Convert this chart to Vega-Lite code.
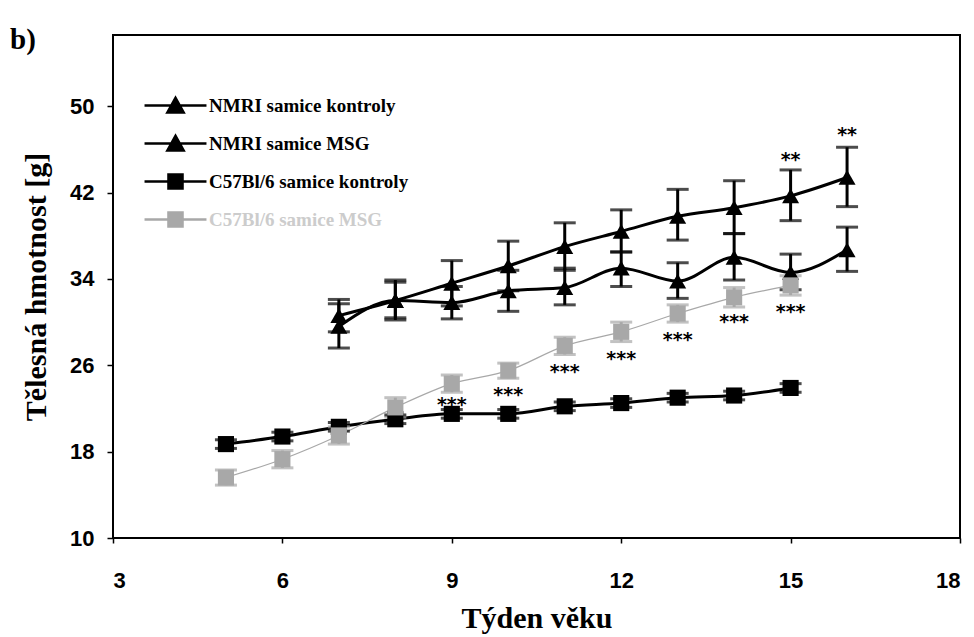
{
  "$schema": "https://vega.github.io/schema/vega-lite/v6.json",
  "autosize": {"type": "none"},
  "width": 847,
  "height": 503,
  "padding": {"left": 113, "top": 35, "right": 14, "bottom": 99},
  "background": "white",
  "title": {
    "text": "b)",
    "anchor": "start",
    "frame": "group",
    "orient": "top",
    "offset": 0,
    "dx": -103,
    "dy": 43,
    "baseline": "alphabetic",
    "font": "Liberation Serif",
    "fontWeight": "bold",
    "fontSize": 29,
    "color": "black"
  },
  "datasets": {
    "series": [
      {"s": "NMRI samice kontroly", "w": 7, "m": 30.6, "lo": 29.1, "hi": 32.1},
      {"s": "NMRI samice kontroly", "w": 8, "m": 32.0, "lo": 30.2, "hi": 33.9},
      {"s": "NMRI samice kontroly", "w": 9, "m": 33.6, "lo": 31.5, "hi": 35.7},
      {"s": "NMRI samice kontroly", "w": 10, "m": 35.2, "lo": 32.9, "hi": 37.5},
      {"s": "NMRI samice kontroly", "w": 11, "m": 37.0, "lo": 34.8, "hi": 39.2},
      {"s": "NMRI samice kontroly", "w": 12, "m": 38.4, "lo": 36.5, "hi": 40.4},
      {"s": "NMRI samice kontroly", "w": 13, "m": 39.8, "lo": 37.6, "hi": 42.3},
      {"s": "NMRI samice kontroly", "w": 14, "m": 40.6, "lo": 38.2, "hi": 43.1},
      {"s": "NMRI samice kontroly", "w": 15, "m": 41.7, "lo": 39.4, "hi": 44.1},
      {"s": "NMRI samice kontroly", "w": 16, "m": 43.4, "lo": 40.7, "hi": 46.2},
      {"s": "NMRI samice MSG", "w": 7, "m": 29.6, "lo": 27.6, "hi": 31.7},
      {"s": "NMRI samice MSG", "w": 8, "m": 32.0, "lo": 30.4, "hi": 33.7},
      {"s": "NMRI samice MSG", "w": 9, "m": 31.8, "lo": 30.3, "hi": 33.3},
      {"s": "NMRI samice MSG", "w": 10, "m": 32.9, "lo": 31.0, "hi": 34.8},
      {"s": "NMRI samice MSG", "w": 11, "m": 33.2, "lo": 31.6, "hi": 35.0},
      {"s": "NMRI samice MSG", "w": 12, "m": 35.0, "lo": 33.3, "hi": 36.5},
      {"s": "NMRI samice MSG", "w": 13, "m": 33.8, "lo": 32.2, "hi": 35.5},
      {"s": "NMRI samice MSG", "w": 14, "m": 36.0, "lo": 33.9, "hi": 38.2},
      {"s": "NMRI samice MSG", "w": 15, "m": 34.6, "lo": 33.0, "hi": 36.3},
      {"s": "NMRI samice MSG", "w": 16, "m": 36.7, "lo": 34.7, "hi": 38.8},
      {"s": "C57Bl/6 samice kontroly", "w": 5, "m": 18.7, "lo": 18.3, "hi": 19.1},
      {"s": "C57Bl/6 samice kontroly", "w": 6, "m": 19.4, "lo": 19.0, "hi": 19.8},
      {"s": "C57Bl/6 samice kontroly", "w": 7, "m": 20.3, "lo": 19.9, "hi": 20.7},
      {"s": "C57Bl/6 samice kontroly", "w": 8, "m": 21.0, "lo": 20.6, "hi": 21.4},
      {"s": "C57Bl/6 samice kontroly", "w": 9, "m": 21.5, "lo": 21.1, "hi": 21.9},
      {"s": "C57Bl/6 samice kontroly", "w": 10, "m": 21.5, "lo": 21.1, "hi": 21.9},
      {"s": "C57Bl/6 samice kontroly", "w": 11, "m": 22.2, "lo": 21.8, "hi": 22.6},
      {"s": "C57Bl/6 samice kontroly", "w": 12, "m": 22.5, "lo": 22.1, "hi": 22.9},
      {"s": "C57Bl/6 samice kontroly", "w": 13, "m": 23.0, "lo": 22.6, "hi": 23.4},
      {"s": "C57Bl/6 samice kontroly", "w": 14, "m": 23.2, "lo": 22.8, "hi": 23.6},
      {"s": "C57Bl/6 samice kontroly", "w": 15, "m": 23.9, "lo": 23.5, "hi": 24.3},
      {"s": "C57Bl/6 samice MSG", "w": 5, "m": 15.6, "lo": 14.9, "hi": 16.3},
      {"s": "C57Bl/6 samice MSG", "w": 6, "m": 17.3, "lo": 16.5, "hi": 18.1},
      {"s": "C57Bl/6 samice MSG", "w": 7, "m": 19.5, "lo": 18.7, "hi": 20.3},
      {"s": "C57Bl/6 samice MSG", "w": 8, "m": 22.1, "lo": 21.2, "hi": 23.0},
      {"s": "C57Bl/6 samice MSG", "w": 9, "m": 24.3, "lo": 23.5, "hi": 25.1},
      {"s": "C57Bl/6 samice MSG", "w": 10, "m": 25.5, "lo": 24.8, "hi": 26.2},
      {"s": "C57Bl/6 samice MSG", "w": 11, "m": 27.8, "lo": 27.0, "hi": 28.6},
      {"s": "C57Bl/6 samice MSG", "w": 12, "m": 29.1, "lo": 28.2, "hi": 30.0},
      {"s": "C57Bl/6 samice MSG", "w": 13, "m": 30.8, "lo": 30.0, "hi": 31.6},
      {"s": "C57Bl/6 samice MSG", "w": 14, "m": 32.3, "lo": 31.4, "hi": 33.2},
      {"s": "C57Bl/6 samice MSG", "w": 15, "m": 33.4, "lo": 32.5, "hi": 34.3}
    ],
    "notes": [
      {"w": 9, "v": 22.9, "t": "***"},
      {"w": 10, "v": 23.8, "t": "***"},
      {"w": 11, "v": 25.9, "t": "***"},
      {"w": 12, "v": 27.1, "t": "***"},
      {"w": 13, "v": 28.9, "t": "***"},
      {"w": 14, "v": 30.6, "t": "***"},
      {"w": 15, "v": 31.5, "t": "***"},
      {"w": 15, "v": 45.6, "t": "**"},
      {"w": 16, "v": 47.9, "t": "**"}
    ]
  },
  "encoding": {
    "x": {
      "field": "w",
      "type": "quantitative",
      "scale": {"domain": [3, 18], "nice": false, "zero": false},
      "axis": {
        "title": "Týden věku",
        "values": [3, 6, 9, 12, 15, 18],
        "grid": false,
        "domain": false,
        "tickColor": "black",
        "tickSize": 5,
        "labelFont": "Liberation Sans",
        "labelFontWeight": "bold",
        "labelFontSize": 22,
        "labelColor": "black",
        "labelPadding": 27,
        "titleFont": "Liberation Serif",
        "titleFontWeight": "bold",
        "titleFontSize": 30,
        "titleColor": "black",
        "titlePadding": 12
      }
    }
  },
  "layer": [
    {
      "data": {"name": "series"},
      "transform": [{"filter": "datum.s !== 'C57Bl/6 samice MSG'"}],
      "mark": {"type": "line", "interpolate": "monotone", "strokeWidth": 3},
      "encoding": {
        "y": {
          "field": "m",
          "type": "quantitative",
          "scale": {"domain": [10, 56.6], "nice": false, "zero": false},
          "axis": {
            "title": "Tělesná hmotnost [g]",
            "values": [10, 18, 26, 34, 42, 50],
            "grid": false,
            "domain": false,
            "tickColor": "black",
            "tickSize": 6,
            "labelFont": "Liberation Sans",
            "labelFontWeight": "bold",
            "labelFontSize": 22,
            "labelColor": "black",
            "labelPadding": 13,
            "titleFont": "Liberation Serif",
            "titleFontWeight": "bold",
            "titleFontSize": 30,
            "titleColor": "black",
            "titlePadding": 18
          }
        },
        "color": {
          "field": "s",
          "type": "nominal",
          "scale": {
            "domain": ["NMRI samice kontroly", "NMRI samice MSG", "C57Bl/6 samice kontroly", "C57Bl/6 samice MSG"],
            "range": ["black", "black", "black", "#a8a8a8"]
          },
          "legend": {
            "orient": "none",
            "legendX": 42,
            "legendY": 50,
            "title": null,
            "padding": 0,
            "rowPadding": 5,
            "symbolType": "M-1.63,0H1.63M-0.43,0.37L0,-0.4L0.43,0.37Z",
            "symbolSize": 1444,
            "symbolStrokeWidth": 2.5,
            "labelOffset": 13,
            "labelLimit": 400,
            "labelFont": "Liberation Serif",
            "labelFontWeight": "bold",
            "labelFontSize": 19,
            "labelColor": "black",
            "encode": {
              "symbols": {
                "update": {
                  "shape": {"signal": "indexof(datum.value, 'NMRI') === 0 ? 'M-1.63,0H1.63M-0.43,0.37L0,-0.4L0.43,0.37Z' : 'M-1.63,0H1.63M-0.37,-0.37H0.37V0.37H-0.37Z'"},
                  "fill": {"signal": "datum.value === 'C57Bl/6 samice MSG' ? '#c0c0c0' : 'black'"},
                  "stroke": {"signal": "datum.value === 'C57Bl/6 samice MSG' ? '#dadada' : 'black'"},
                  "strokeWidth": {"value": 2.5},
                  "opacity": {"value": 1}
                }
              },
              "labels": {
                "update": {
                  "fill": {"signal": "datum.value === 'C57Bl/6 samice MSG' ? '#cccccc' : 'black'"}
                }
              }
            }
          }
        }
      }
    },
    {
      "data": {"name": "series"},
      "transform": [{"filter": "datum.s === 'C57Bl/6 samice MSG'"}],
      "mark": {"type": "line", "interpolate": "monotone", "strokeWidth": 1.2},
      "encoding": {
        "y": {"field": "m", "type": "quantitative"},
        "color": {"field": "s", "type": "nominal"}
      }
    },
    {
      "data": {"name": "series"},
      "mark": {"type": "rule", "strokeWidth": 3},
      "encoding": {
        "y": {"field": "lo", "type": "quantitative"},
        "y2": {"field": "hi"},
        "color": {"field": "s", "type": "nominal"}
      }
    },
    {
      "data": {"name": "series"},
      "mark": {"type": "tick", "orient": "horizontal", "thickness": 3, "size": 22},
      "encoding": {
        "y": {"field": "lo", "type": "quantitative"},
        "color": {"field": "s", "type": "nominal"}
      }
    },
    {
      "data": {"name": "series"},
      "mark": {"type": "tick", "orient": "horizontal", "thickness": 3, "size": 22},
      "encoding": {
        "y": {"field": "hi", "type": "quantitative"},
        "color": {"field": "s", "type": "nominal"}
      }
    },
    {
      "data": {"name": "series"},
      "transform": [{"filter": "indexof(datum.s, 'NMRI') === 0"}],
      "mark": {"type": "point", "shape": "triangle-up", "filled": true, "opacity": 1, "size": 290},
      "encoding": {
        "y": {"field": "m", "type": "quantitative"},
        "color": {"field": "s", "type": "nominal"}
      }
    },
    {
      "data": {"name": "series"},
      "transform": [{"filter": "indexof(datum.s, 'C57') === 0"}],
      "mark": {"type": "point", "shape": "square", "filled": true, "opacity": 1, "size": 260},
      "encoding": {
        "y": {"field": "m", "type": "quantitative"},
        "color": {"field": "s", "type": "nominal"}
      }
    },
    {
      "data": {"name": "notes"},
      "mark": {"type": "text", "font": "DejaVu Sans", "fontWeight": "bold", "fontSize": 19, "baseline": "middle", "dy": 6, "color": "black"},
      "encoding": {
        "y": {"field": "v", "type": "quantitative"},
        "text": {"field": "t"},
        "color": {"value": "black"}
      }
    }
  ],
  "config": {
    "view": {"stroke": "black", "strokeWidth": 2},
    "axis": {"tickWidth": 1.5}
  }
}
